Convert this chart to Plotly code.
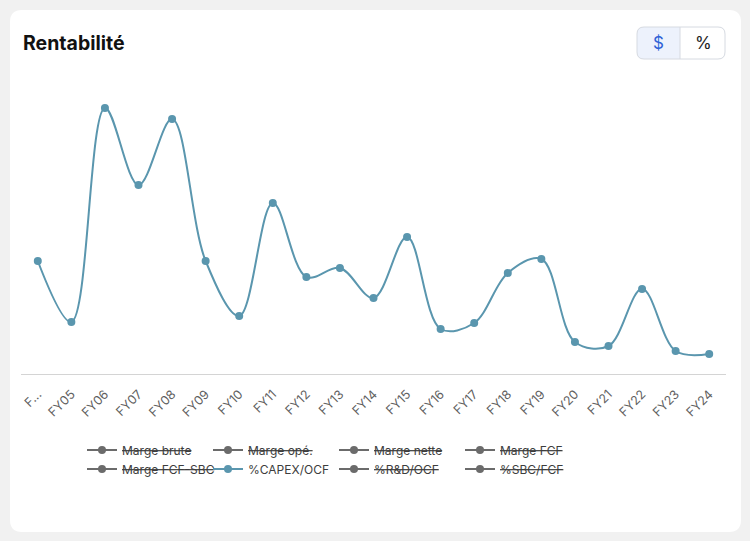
import plotly.graph_objects as go

# ---------------- data ----------------
categories = ["FY04", "FY05", "FY06", "FY07", "FY08", "FY09", "FY10", "FY11", "FY12", "FY13",
              "FY14", "FY15", "FY16", "FY17", "FY18", "FY19", "FY20", "FY21", "FY22", "FY23", "FY24"]
tick_labels = ["F..."] + categories[1:]
capex_ocf = [11.3, 5.2, 26.6, 18.9, 25.5, 11.3, 5.8, 17.1, 9.7, 10.6,
             7.6, 13.7, 4.5, 5.1, 10.1, 11.5, 3.2, 2.8, 8.5, 2.3, 2.0]
legend_row1 = ["Marge brute", "Marge opé.", "Marge nette", "Marge FCF"]
legend_row2 = ["Marge FCF-SBC", "%CAPEX/OCF", "%R&D/OCF", "%SBC/FCF"]
active_series = "%CAPEX/OCF"
hidden_values = [None] * len(categories)   # deselected series: nothing drawn

# ---------------- geometry helpers ----------------
W, H = 750, 541
PL, PR, PT, PB = 21, 726, 74, 374   # plot area in pixels
YMAX = 30.0

def fx(px):
    return (px - PL) / (PR - PL)

def fy(py):
    return (PB - py) / (PB - PT)

def rrect(x0, y0, x1, y1, r):
    rx = r / (PR - PL)
    ry = r / (PB - PT)
    X0, X1 = fx(x0), fx(x1)
    Y0, Y1 = fy(y0), fy(y1)
    return (f"M{X0+rx},{Y0} L{X1-rx},{Y0} Q{X1},{Y0} {X1},{Y0-ry} "
            f"L{X1},{Y1+ry} Q{X1},{Y1} {X1-rx},{Y1} L{X0+rx},{Y1} "
            f"Q{X0},{Y1} {X0},{Y1+ry} L{X0},{Y0-ry} Q{X0},{Y0} {X0+rx},{Y0} Z")

def lrect(x0, y0, x1, y1, r):
    rx = r / (PR - PL)
    ry = r / (PB - PT)
    X0, X1 = fx(x0), fx(x1)
    Y0, Y1 = fy(y0), fy(y1)
    return (f"M{X0+rx},{Y0} L{X1},{Y0} L{X1},{Y1} L{X0+rx},{Y1} "
            f"Q{X0},{Y1} {X0},{Y1+ry} L{X0},{Y0-ry} Q{X0},{Y0} {X0+rx},{Y0} Z")

LINE_COLOR = "#5a96ae"
GRAY = "#6b6b6b"
FONT = "Inter"

fig = go.Figure()

def add_series(name, legend):
    if name == active_series:
        fig.add_trace(go.Scatter(
            x=categories, y=capex_ocf, name=name, mode="lines+markers",
            line=dict(color=LINE_COLOR, width=2, shape="spline", smoothing=1.0),
            marker=dict(color=LINE_COLOR, size=8),
            legend=legend, hoverinfo="skip"))
    else:
        fig.add_trace(go.Scatter(
            x=categories, y=hidden_values, name=f"<s>{name}</s>", mode="lines+markers",
            line=dict(color=GRAY, width=2),
            marker=dict(color=GRAY, size=8),
            legend=legend, hoverinfo="skip"))

for n in legend_row1:
    add_series(n, "legend")
for n in legend_row2:
    add_series(n, "legend2")

shapes = [
    dict(type="path", xref="paper", yref="paper", path=rrect(10, 10, 741, 532, 12),
         fillcolor="white", line=dict(width=0), layer="below"),
    dict(type="path", xref="paper", yref="paper", path=rrect(637, 27, 725, 59, 7),
         fillcolor="white", line=dict(width=0), layer="above"),
    dict(type="path", xref="paper", yref="paper", path=lrect(637, 27, 680, 59, 7),
         fillcolor="#edf2fc", line=dict(width=0), layer="above"),
    dict(type="line", xref="paper", yref="paper", x0=fx(680), x1=fx(680), y0=fy(27), y1=fy(59),
         line=dict(color="#d6dae1", width=1), layer="above"),
    dict(type="path", xref="paper", yref="paper", path=rrect(637, 27, 725, 59, 7),
         fillcolor="rgba(0,0,0,0)", line=dict(color="#d6dae1", width=1), layer="above"),
]

annotations = [
    dict(text="<b>Rentabilité</b>", x=fx(21), y=fy(43), xref="paper", yref="paper",
         xanchor="left", yanchor="middle", showarrow=False,
         font=dict(family=FONT, size=19.5, color="#111111")),
    dict(text="$", x=fx(658.5), y=fy(43), xref="paper", yref="paper",
         xanchor="center", yanchor="middle", showarrow=False,
         font=dict(family=FONT, size=17, color="#2f62d6")),
    dict(text="%", x=fx(703), y=fy(43), xref="paper", yref="paper",
         xanchor="center", yanchor="middle", showarrow=False,
         font=dict(family=FONT, size=17, color="#222222")),
]

legend_common = dict(orientation="h", entrywidth=81, entrywidthmode="pixels",
                     xanchor="left", yanchor="middle", bgcolor="rgba(0,0,0,0)",
                     font=dict(family=FONT, size=12, color="#3d3d3d"), itemclick=False,
                     itemdoubleclick=False, tracegroupgap=0)

fig.update_layout(
    width=W, height=H,
    margin=dict(l=PL, r=W - PR, t=PT, b=H - PB),
    paper_bgcolor="#f1f1f1", plot_bgcolor="rgba(0,0,0,0)",
    showlegend=True,
    legend=dict(x=fx(82), y=fy(450), **legend_common),
    legend2=dict(x=fx(82), y=fy(469), **legend_common),
    xaxis=dict(type="category", categoryorder="array", categoryarray=categories,
               tickmode="array", tickvals=categories, ticktext=tick_labels,
               range=[-0.5, len(categories) - 0.5], tickangle=-45, ticklabelstandoff=7,
               showgrid=False, zeroline=False, showline=True, linecolor="#d4d4d4", linewidth=1,
               ticks="", tickfont=dict(family=FONT, size=12.5, color="#5f5f5f"), fixedrange=True),
    yaxis=dict(range=[0, YMAX], visible=False, showgrid=False, zeroline=False, fixedrange=True),
    shapes=shapes, annotations=annotations,
    font=dict(family=FONT),
)

fig.write_html("out.html")
